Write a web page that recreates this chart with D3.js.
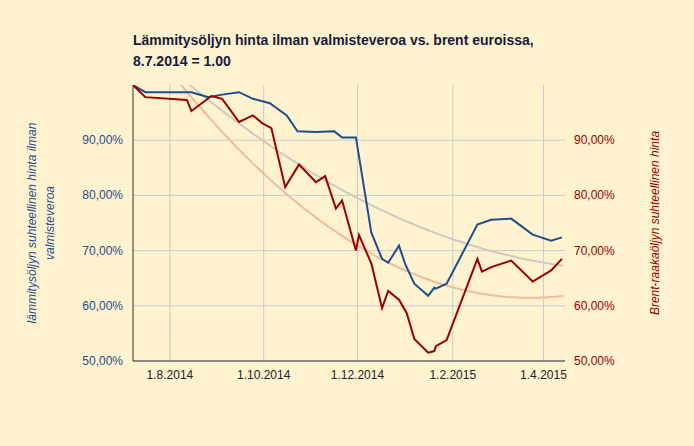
<!DOCTYPE html><html><head><meta charset="utf-8">
<script src="https://cdn.jsdelivr.net/npm/d3@7"></script>
<style>body{margin:0;background:#fff2cf}svg{font-family:Arial,"Liberation Sans",sans-serif}</style></head><body>
<svg id="c" width="694" height="446"></svg>
<script>
const blueDates=["2014-07-08","2014-07-16","2014-08-15","2014-08-26","2014-09-05","2014-09-15","2014-09-24","2014-10-05","2014-10-16","2014-10-23","2014-11-04","2014-11-16","2014-11-21","2014-11-30","2014-12-10","2014-12-17","2014-12-21","2014-12-28","2015-01-01","2015-01-07","2015-01-16","2015-01-20","2015-01-21","2015-01-28","2015-02-17","2015-02-26","2015-03-11","2015-03-25","2015-04-06","2015-04-13"];
const blueVals=[100,98.7,98.7,97.8,98.3,98.7,97.5,96.7,94.5,91.6,91.5,91.6,90.5,90.5,73.3,68.5,67.8,70.9,67.6,64.0,61.8,63.3,63.1,64.0,74.7,75.6,75.8,72.9,71.8,72.4];
const redDates=["2014-07-08","2014-07-16","2014-08-12","2014-08-15","2014-08-28","2014-09-04","2014-09-15","2014-09-24","2014-09-30","2014-10-06","2014-10-15","2014-10-24","2014-11-04","2014-11-10","2014-11-17","2014-11-21","2014-11-30","2014-12-02","2014-12-10","2014-12-17","2014-12-21","2014-12-28","2015-01-02","2015-01-07","2015-01-16","2015-01-20","2015-01-21","2015-01-28","2015-02-17","2015-02-20","2015-02-26","2015-03-11","2015-03-25","2015-04-06","2015-04-13"];
const redVals=[100,97.8,97.3,95.3,98,97.5,93.3,94.5,93.1,92.2,81.5,85.6,82.4,83.5,77.6,79.1,70.0,72.8,67.7,59.6,62.7,61.1,58.7,54.0,51.5,51.8,52.7,53.8,68.5,66.2,67.0,68.2,64.4,66.4,68.5];
const xTicks=["2014-08-01","2014-10-01","2014-12-01","2015-02-01","2015-04-01"];
const xTickLabels=["1.8.2014","1.10.2014","1.12.2014","1.2.2015","1.4.2015"];
const yTicks=[50,60,70,80,90];
const P=d3.timeParse("%Y-%m-%d");
const svg=d3.select("#c");
const L=133,R=565,T=85,B=361;
const x=d3.scaleTime().domain([P("2014-07-08"),P("2015-04-15")]).range([L,R]);
const y=d3.scaleLinear().domain([50,100]).range([B,T]);
const fmt=v=>v.toFixed(2).replace(".",",")+"%";
// grid
svg.append("g").selectAll("line").data(yTicks).join("line").attr("x1",L).attr("x2",R).attr("y1",y).attr("y2",y).attr("stroke","#c9c9d2");
svg.append("g").selectAll("line").data(xTicks).join("line").attr("x1",d=>x(P(d))).attr("x2",d=>x(P(d))).attr("y1",T).attr("y2",B).attr("stroke","#c9c9d2");
svg.append("defs").append("clipPath").attr("id","cp").append("rect").attr("x",L).attr("y",T).attr("width",R-L).attr("height",B-T);
// trends (quadratic regression)
function fit(dates,vals){const xs=dates.map(d=>(P(d)-P(dates[0]))/864e5);
 let S=[0,0,0,0,0],Ty=[0,0,0];xs.forEach((t,i)=>{for(let k=0;k<5;k++)S[k]+=t**k;for(let k=0;k<3;k++)Ty[k]+=vals[i]*t**k;});
 const M=[[S[0],S[1],S[2],Ty[0]],[S[1],S[2],S[3],Ty[1]],[S[2],S[3],S[4],Ty[2]]];
 for(let i=0;i<3;i++){for(let j=i+1;j<3;j++){const f=M[j][i]/M[i][i];for(let k=i;k<4;k++)M[j][k]-=f*M[i][k];}}
 const c=[0,0,0];for(let i=2;i>=0;i--){let s=M[i][3];for(let k=i+1;k<3;k++)s-=M[i][k]*c[k];c[i]=s/M[i][i];}
 const t0=P(dates[0]);return d3.range(0,282,2).map(t=>[new Date(+t0+t*864e5),c[0]+c[1]*t+c[2]*t*t]);}
const tl=d3.line().x(d=>x(d[0])).y(d=>y(d[1])).curve(d3.curveBasis);
const g=svg.append("g").attr("clip-path","url(#cp)");
g.append("path").attr("d",tl(fit(blueDates,blueVals))).attr("fill","none").attr("stroke","#cdcbc0").attr("stroke-width",2);
g.append("path").attr("d",tl(fit(redDates,redVals))).attr("fill","none").attr("stroke","#eebca0").attr("stroke-width",2);
const ln=d3.line().x(d=>x(P(d[0]))).y(d=>y(d[1]));
g.append("path").attr("d",ln(blueDates.map((d,i)=>[d,blueVals[i]]))).attr("fill","none").attr("stroke","#1f4e8f").attr("stroke-width",2);
g.append("path").attr("d",ln(redDates.map((d,i)=>[d,redVals[i]]))).attr("fill","none").attr("stroke","#990000").attr("stroke-width",2);
// axes
svg.append("line").attr("x1",L).attr("x2",L).attr("y1",T).attr("y2",B).attr("stroke","#333");
svg.append("line").attr("x1",L).attr("x2",R).attr("y1",B).attr("y2",B).attr("stroke","#333");
svg.append("g").selectAll("text").data(yTicks.concat([])).join("text").attr("x",L-10).attr("y",d=>y(d)+4).attr("text-anchor","end").attr("font-size",12).attr("fill","#1f4e8f").text(fmt);
svg.append("g").selectAll("text").data(yTicks).join("text").attr("x",R+9).attr("y",d=>y(d)+4).attr("font-size",12).attr("fill","#990000").text(fmt);
svg.append("g").selectAll("text").data(xTicks).join("text").attr("x",d=>x(P(d))).attr("y",379).attr("text-anchor","middle").attr("font-size",12).attr("fill","#222").text((d,i)=>xTickLabels[i]);
// titles
const tt=svg.append("text").attr("x",133).attr("font-size",14).attr("font-weight","bold").attr("fill","#1a1a3c");
tt.append("tspan").attr("x",133).attr("y",45).text("Lämmitysöljyn hinta ilman valmisteveroa vs. brent euroissa,");
tt.append("tspan").attr("x",133).attr("y",66).text("8.7.2014 = 1.00");
const lt=svg.append("text").attr("transform","translate(36,223) rotate(-90)").attr("text-anchor","middle").attr("font-size",12).attr("font-style","italic").attr("fill","#1f4e8f");
lt.append("tspan").attr("x",0).attr("dy",0).text("lämmitysöljyn suhteellinen hinta ilman");
lt.append("tspan").attr("x",0).attr("dy",18).text("valmisteveroa");
svg.append("text").attr("transform","translate(659,223) rotate(-90)").attr("text-anchor","middle").attr("font-size",12).attr("font-style","italic").attr("fill","#990000").text("Brent-raakaöljyn suhteellinen hinta");
</script></body></html>
